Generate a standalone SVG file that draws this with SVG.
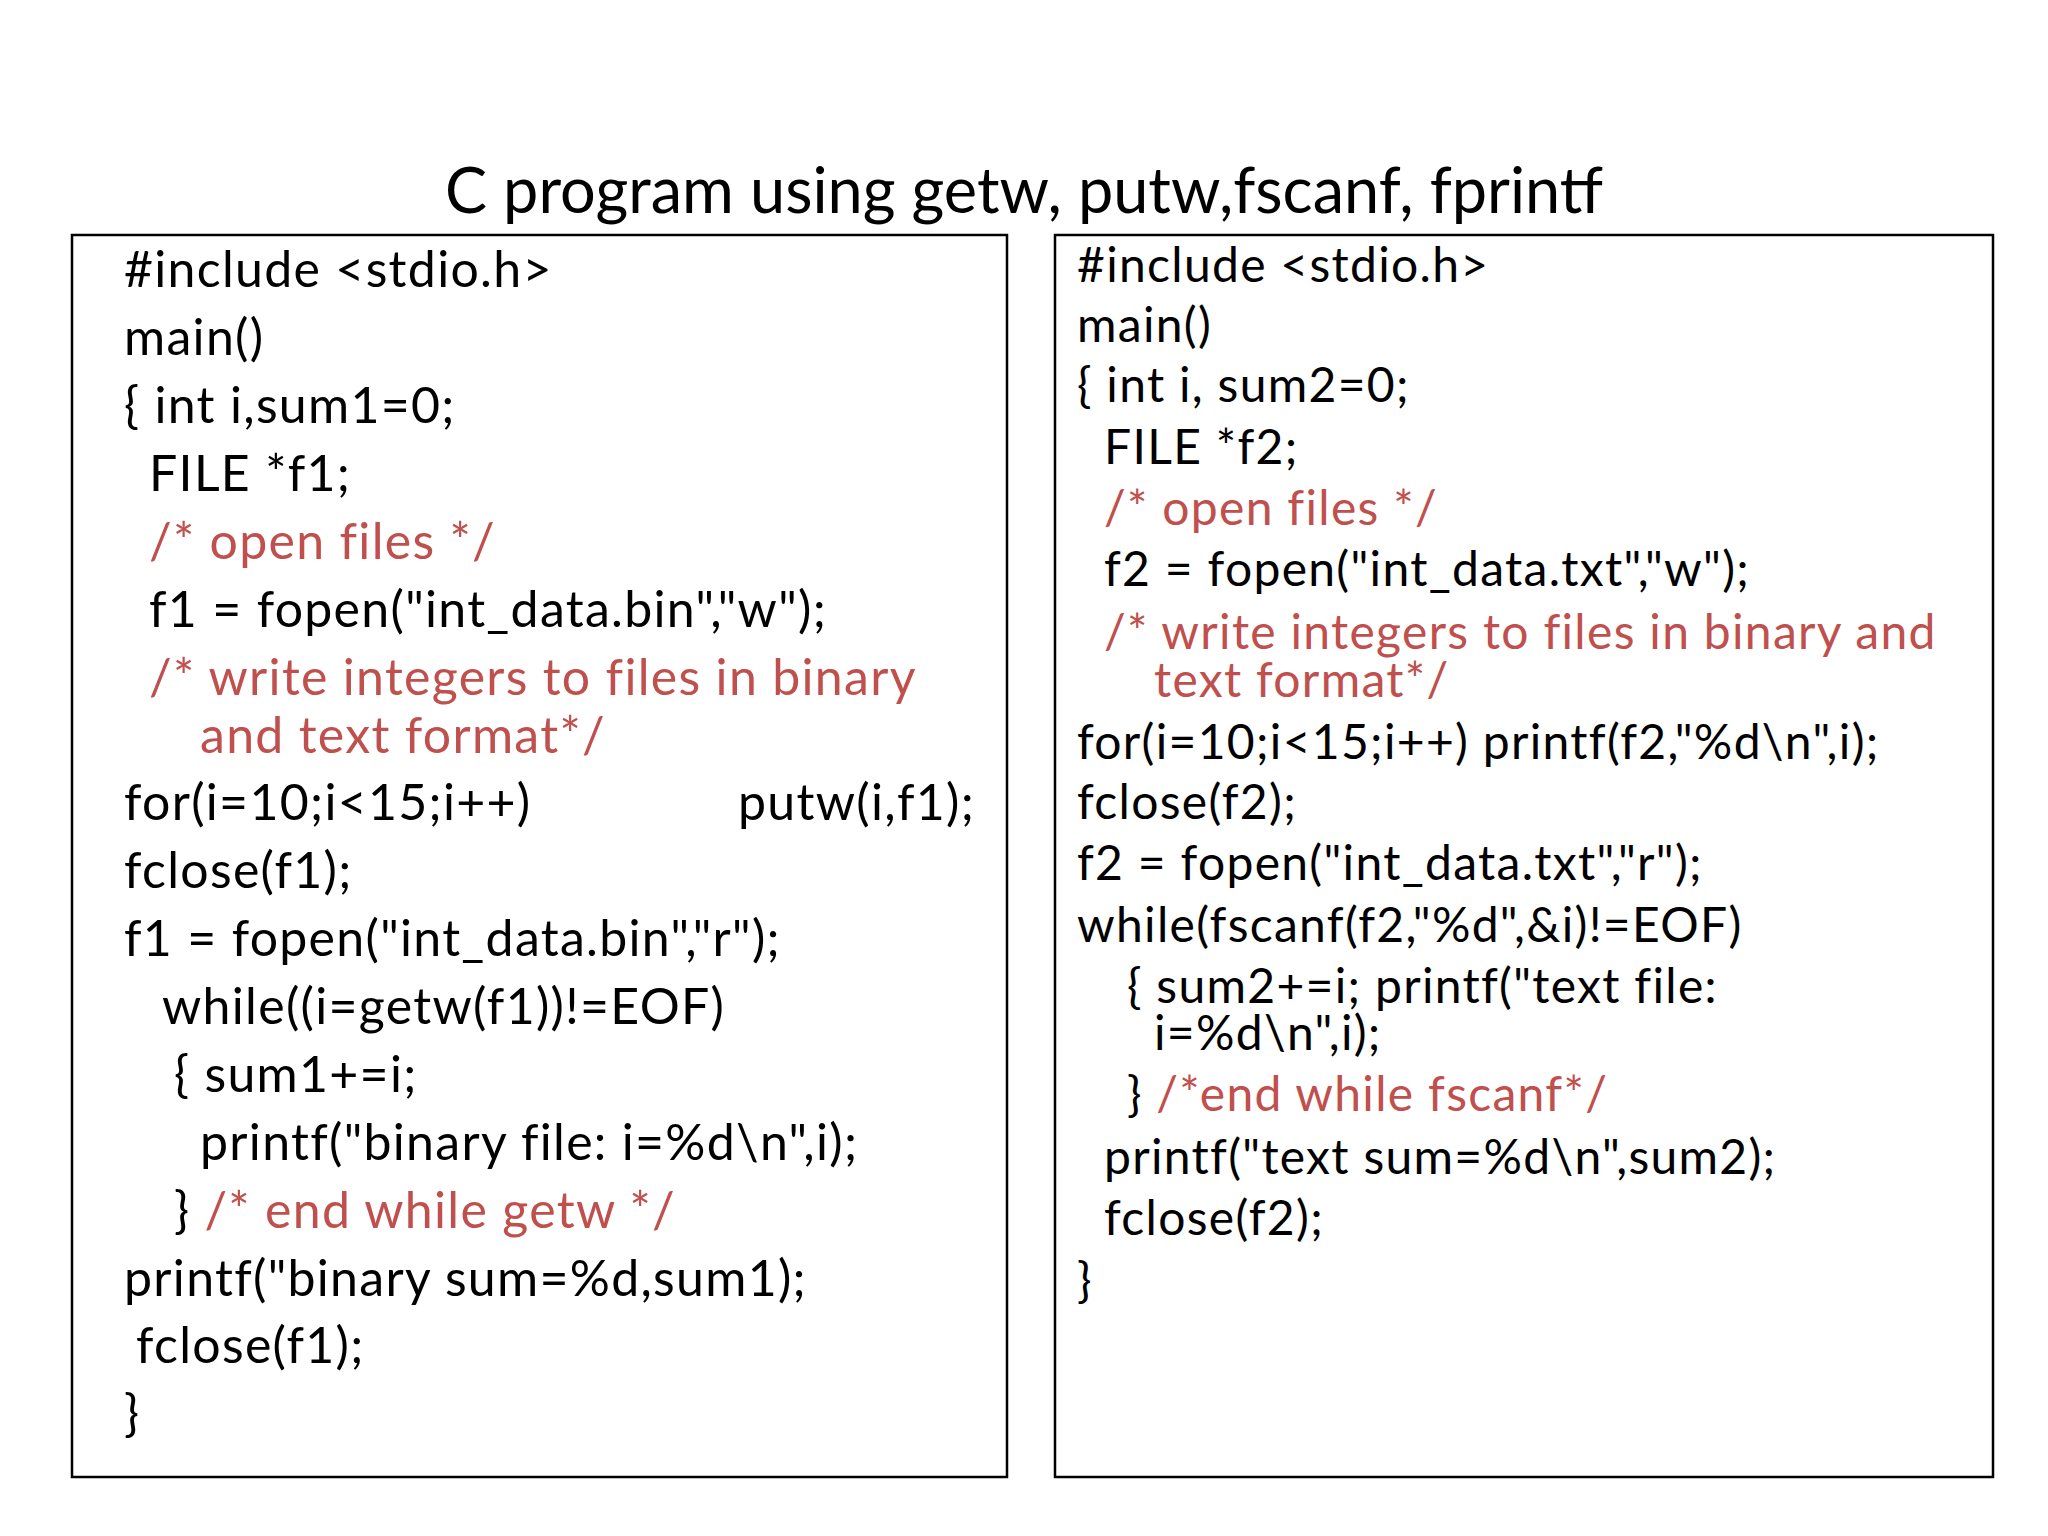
<svg xmlns="http://www.w3.org/2000/svg" width="2048" height="1536" viewBox="0 0 2048 1536" xml:space="preserve">
<style>
text{font-family:Lato,"Open Sans",sans-serif;fill:#000}
.c{font-size:50px;letter-spacing:1.3px}
.r{font-size:48px;letter-spacing:1.3px}
.red{fill:#c0504d}
.box{fill:none;stroke:#000;stroke-width:2.5}
</style>
<rect width="2048" height="1536" fill="#fff"/>
<text x="1024" y="213" font-size="63" text-anchor="middle">C program using getw, putw,fscanf, fprintf</text>
<g id="left">
<rect class="box" x="72" y="235" width="935" height="1242"/>
<g class="c">
<text x="124" y="287">#include &lt;stdio.h&gt;</text>
<text x="124" y="355">main()</text>
<text x="124" y="423">{ int i,sum1=0;</text>
<text x="149" y="491">FILE *f1;</text>
<text x="149" y="559" class="red">/* open files */</text>
<text x="149" y="627">f1 = fopen("int_data.bin","w");</text>
<text x="149" y="695" class="red">/* write integers to files in binary</text>
<text x="200" y="753" class="red">and text format*/</text>
<text x="124" y="820">for(i=10;i&lt;15;i++)</text>
<text x="738" y="820">putw(i,f1);</text>
<text x="124" y="888">fclose(f1);</text>
<text x="124" y="956">f1 = fopen("int_data.bin","r");</text>
<text x="162" y="1024">while((i=getw(f1))!=EOF)</text>
<text x="174" y="1092">{   sum1+=i;</text>
<text x="200" y="1160">printf("binary file: i=%d\n",i);</text>
<text x="174" y="1228">} <tspan class="red">/* end while getw */</tspan></text>
<text x="124" y="1296">printf("binary sum=%d,sum1);</text>
<text x="136" y="1363">fclose(f1);</text>
<text x="124" y="1431">}</text>
</g>
</g>
<g id="right">
<rect class="box" x="1055" y="235" width="938" height="1242"/>
<g class="r">
<text x="1077" y="282">#include &lt;stdio.h&gt;</text>
<text x="1077" y="342">main()</text>
<text x="1077" y="402">{  int i, sum2=0;</text>
<text x="1104" y="464">FILE *f2;</text>
<text x="1104" y="525" class="red">/* open files */</text>
<text x="1104" y="586">f2 = fopen("int_data.txt","w");</text>
<text x="1104" y="649" class="red">/* write integers to files in binary and</text>
<text x="1154" y="697" class="red">text format*/</text>
<text x="1077" y="759">for(i=10;i&lt;15;i++) printf(f2,"%d\n",i);</text>
<text x="1077" y="819">fclose(f2);</text>
<text x="1077" y="880">f2 = fopen("int_data.txt","r");</text>
<text x="1077" y="942">while(fscanf(f2,"%d",&amp;i)!=EOF)</text>
<text x="1127" y="1003">{ sum2+=i; printf("text file:</text>
<text x="1154" y="1050">i=%d\n",i);</text>
<text x="1127" y="1111">} <tspan class="red">/*end while fscanf*/</tspan></text>
<text x="1104" y="1174">printf("text sum=%d\n",sum2);</text>
<text x="1104" y="1235">fclose(f2);</text>
<text x="1077" y="1297">}</text>
</g>
</g>
</svg>
